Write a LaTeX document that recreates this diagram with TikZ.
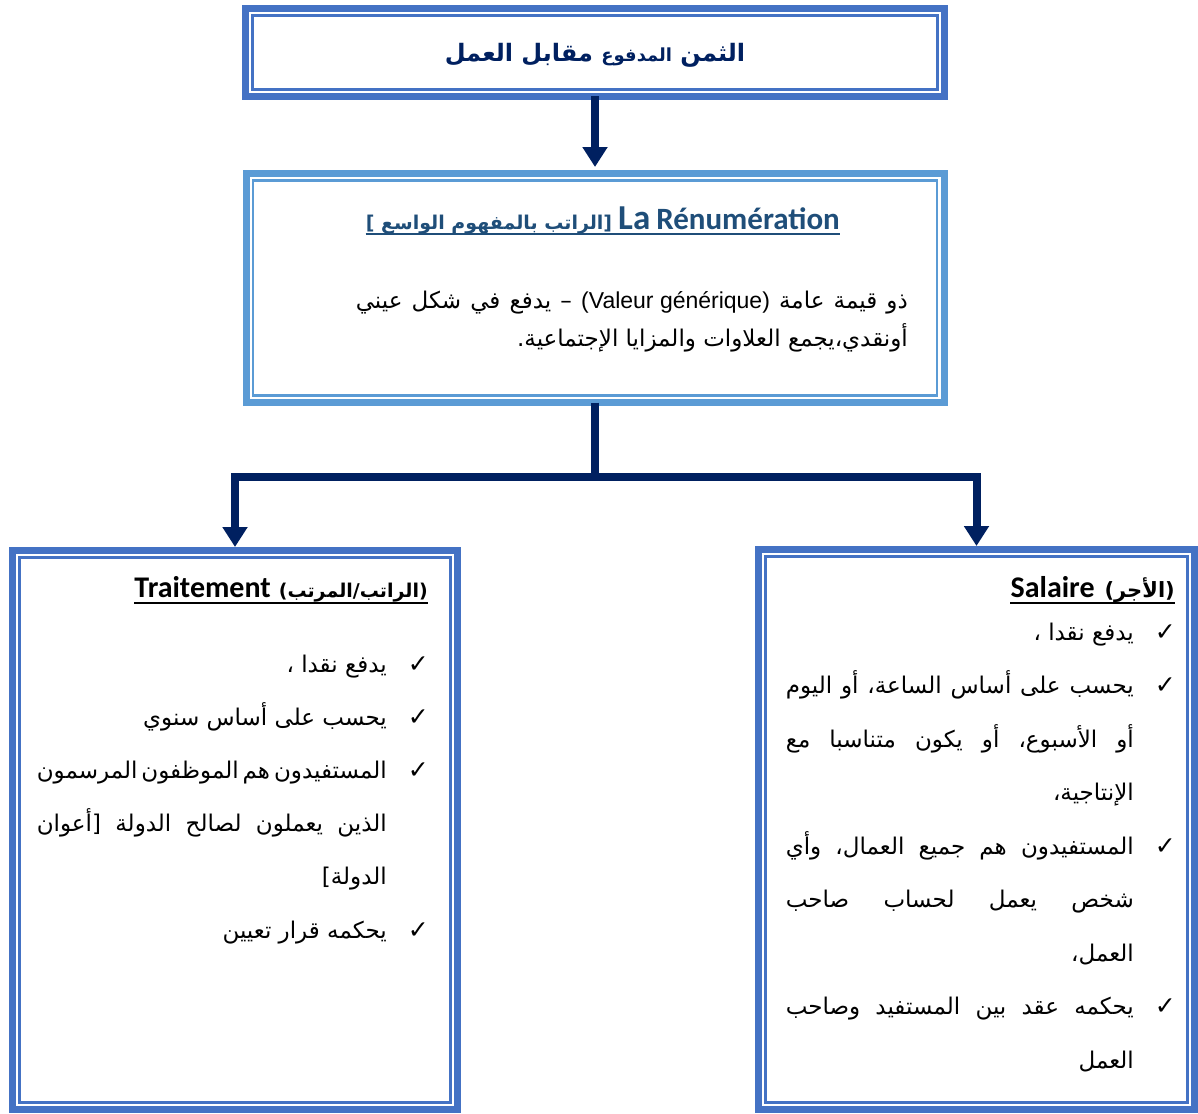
\documentclass[tikz,border=0pt]{standalone}
\usepackage{fontspec}
\setmainfont{Liberation Sans}
\newfontfamily\arabicfont[Script=Arabic]{DejaVu Sans}
\newfontfamily\calibri{Carlito}
\newfontfamily\symfont{DejaVu Sans}
\TeXXeTstate=1
\usetikzlibrary{arrows.meta}
\definecolor{boxblue}{HTML}{4472C4}
\definecolor{lightblue}{HTML}{5B9BD5}
\definecolor{navy}{HTML}{002060}
\definecolor{titleblue}{HTML}{1F4E79}
% one line of right-to-left text: justified or flush right
\newcommand\jline[2][]{\hbox to \hsize{\spaceskip=.15em plus 1fil\beginR #2\endR#1}}
\newcommand\rline[2][]{\hbox to \hsize{\hfill\beginR #2\endR#1}}
\newcommand\chk{\rlap{\hskip 21pt\symfont\bfseries\fontsize{25}{25}\selectfont ✓}}

\begin{document}
\begin{tikzpicture} [x=1pt, y=-1pt,
  outerbox/.style={draw=#1, line width=7pt, inner sep=0pt, outer sep=0pt},
  innerbox/.style={draw=#1, line width=2.5pt},
  conn/.style={draw=navy, line width=8pt},
  arr/.style={conn, -{Triangle[width=24pt,length=20pt]}},
  uline/.style={draw=#1, line width=2pt},
  lbl/.style={inner sep=0pt}]
\useasboundingbox (0,0) rectangle (1198,1113);
\node [outerbox=boxblue, minimum width=699pt, minimum height=88pt] (top) at (595,52.5) {};
\node [outerbox=lightblue, minimum width=698pt, minimum height=229pt] (renum) at (595,288) {};
\node [outerbox=boxblue, minimum width=445pt, minimum height=559pt] (trait) at (235,830) {};
\node [outerbox=boxblue, minimum width=436pt, minimum height=560pt] (sal) at (976.5,829.5) {};
\foreach \b/\c in {top/boxblue, renum/lightblue, trait/boxblue, sal/boxblue}
  \draw [innerbox=\c] ([xshift=7pt,yshift=-7pt]\b.north west) rectangle ([xshift=-7pt,yshift=7pt]\b.south east);

\node [lbl, anchor=base, text=navy, font=\arabicfont\bfseries] (ttl) at (595,62)
  {\fontsize{24}{30}\selectfont\beginR الثمن {\fontsize{18}{30}\selectfont المدفوع} مقابل العمل\endR};

\node [lbl, anchor=base east, text=titleblue, font=\bfseries] (rttl) at (840,229)
  {{\arabicfont\fontsize{19}{25}\selectfont\beginR[الراتب بالمفهوم الواسع ]\endR}\hspace{6pt}{\calibri\fontsize{35}{40}\selectfont La}\hspace{6pt}{\calibri\fontsize{31}{30}\selectfont Rénumération}\hspace{5pt}};
\draw [uline=titleblue] ([yshift=-5pt]rttl.base west) -- ([yshift=-5pt]rttl.base east);
\node [lbl, anchor=base east, font=\arabicfont\fontsize{23}{38}\selectfont] (rbody) at (908,308) {\vtop{\hsize=552pt
  \jline{ذو قيمة عامة \beginL{\rmfamily\spaceskip=0pt (Valeur générique)}\endL{} – يدفع في شكل عيني}
  \rline{أونقدي،يجمع العلاوات والمزايا الإجتماعية.}}};

\node [lbl, anchor=base east, font=\bfseries] (trttl) at (428,597)
  {{\calibri\fontsize{30}{30}\selectfont Traitement}\hspace{8pt}{\arabicfont\fontsize{19}{25}\selectfont\beginR(الراتب/المرتب)\endR}};
\draw [uline=black] ([yshift=-6pt]trttl.base west) -- ([yshift=-6pt]trttl.base east);
\node [lbl, anchor=base east, font=\arabicfont\fontsize{23}{53.2}\selectfont] (tritems) at (387,672) {\vtop{\hsize=350pt
  \rline[\chk]{يدفع نقدا ،}
  \rline[\chk]{يحسب على أساس سنوي}
  \jline[\chk]{المستفيدون هم الموظفون المرسمون}
  \jline{الذين يعملون لصالح الدولة [أعوان}
  \rline{الدولة]}
  \rline[\chk]{يحكمه قرار تعيين}}};

\node [lbl, anchor=base east, font=\bfseries] (salttl) at (1175,597)
  {{\calibri\fontsize{30}{30}\selectfont Salaire}\hspace{10pt}{\arabicfont\fontsize{21}{25}\selectfont\beginR(الأجر)\endR}};
\draw [uline=black] ([yshift=-6pt]salttl.base west) -- ([yshift=-6pt]salttl.base east);
\node [lbl, anchor=base east, font=\arabicfont\fontsize{23}{53.5}\selectfont] (salitems) at (1134,640) {\vtop{\hsize=348pt
  \rline[\chk]{يدفع نقدا ،}
  \jline[\chk]{يحسب على أساس الساعة، أو اليوم}
  \jline{أو الأسبوع، أو يكون متناسبا مع}
  \rline{الإنتاجية،}
  \jline[\chk]{المستفيدون هم جميع العمال، وأي}
  \jline{شخص يعمل لحساب صاحب}
  \rline{العمل،}
  \jline[\chk]{يحكمه عقد بين المستفيد وصاحب}
  \rline{العمل}}};

\coordinate (split) at (595,477);
\draw [arr, shorten >=6.5pt] (top) -- (renum);
\draw [conn] (renum) -- (split);
\draw [arr, shorten >=3.5pt] (split) -| (trait);
\draw [arr, shorten >=3.5pt] (split) -| (sal);
\end{tikzpicture}
\end{document}
